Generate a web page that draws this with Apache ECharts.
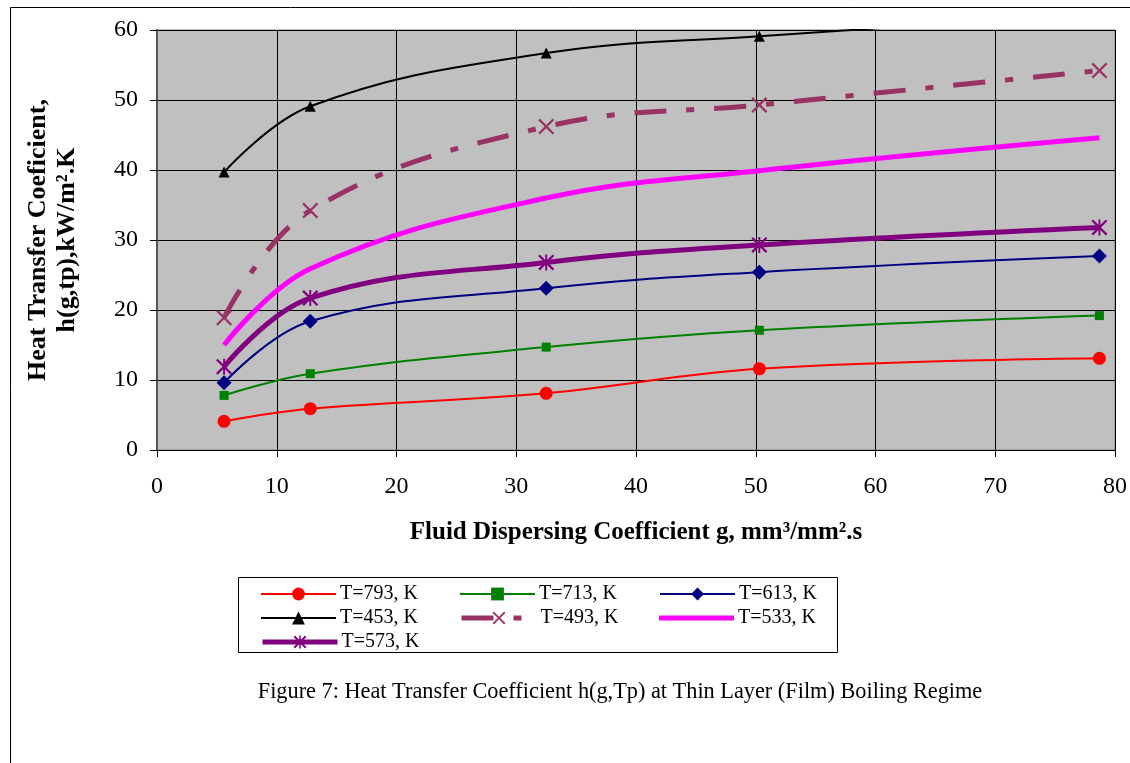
<!DOCTYPE html>
<html>
<head>
<meta charset="utf-8">
<script src="https://cdn.jsdelivr.net/npm/echarts@6/dist/echarts.min.js"></script>
<style>
  html, body { margin: 0; padding: 0; background: #fff; }
  #main { width: 1130px; height: 763px; }
</style>
</head>
<body>
<div id="main"></div>
<script>
// fluid dispersing coefficient g, mm3/mm2.s
var gValues = [5.6, 12.8, 32.5, 50.3, 78.7];
// heat transfer coefficient, kW/m2.K
var t793 = [4.1, 5.9, 8.1, 11.6, 13.1];
var t713 = [7.8, 10.9, 14.7, 17.1, 19.2];
var t613 = [9.6, 18.4, 23.1, 25.4, 27.7];
var t453 = [39.7, 49.1, 56.7, 59.1, 62.3];
var t493 = [18.9, 34.2, 46.2, 49.3, 54.2];
var t533 = [15.0, 25.9, 36.0, 39.9, 44.6];
var t573 = [11.9, 21.7, 26.8, 29.3, 31.8];
var xTicks = [0, 10, 20, 30, 40, 50, 60, 70, 80];
var yTicks = [0, 10, 20, 30, 40, 50, 60];

var serif = '"Liberation Serif", "Times New Roman", serif';
var crossPath = 'path://M0,1L1,0L5,4L9,0L10,1L6,5L10,9L9,10L5,6L1,10L0,9L4,5Z';
var starPath = 'path://M4.4,0L5.6,0L5.6,10L4.4,10Z M0,1L1,0L10,9L9,10Z M9,0L10,1L1,10L0,9Z';

function pairs(vals) {
	var out = [];
	for (var i = 0; i < gValues.length; i++) {
		out.push([gValues[i], vals[i]]);
	}
	return out;
}

function mkSeries(name, vals, color, width, symbol, size, dash) {
	return {
		name: name,
		type: 'line',
		smooth: 0.4,
		data: pairs(vals),
		symbol: symbol,
		symbolSize: size,
		showSymbol: symbol !== 'none',
		lineStyle: { color: color, width: width, type: dash || 'solid' },
		itemStyle: { color: color },
		emphasis: { disabled: true },
		z: 3
	};
}

var seriesList = [
	mkSeries('T=793, K', t793, '#FF0000', 2, 'circle', 13),
	mkSeries('T=713, K', t713, '#008000', 2, 'rect', 9),
	mkSeries('T=613, K', t613, '#000080', 2, 'diamond', 15),
	mkSeries('T=453, K', t453, '#000000', 2, 'triangle', 11),
	mkSeries('T=493, K', t493, '#993366', 5, crossPath, 16, [32, 20, 8, 20]),
	mkSeries('T=533, K', t533, '#FF00FF', 5, 'none', 0),
	mkSeries('T=573, K', t573, '#800080', 5, starPath, 16)
];

// legend placement: one small legend per entry (row centres 592 / 616 / 640)
var legendPos = [
	[260, 592], [459, 592], [659, 592],
	[260, 616], [459, 616], [659, 616],
	[260, 640]
];
var legendWidth = [2, 2, 2, 2, 5, 5, 5];
var legends = [];
for (var i = 0; i < seriesList.length; i++) {
	var item = { name: seriesList[i].name, lineStyle: { width: legendWidth[i] } };
	var h = 16;
	if (seriesList[i].symbol === 'none') {
		item.icon = 'rect';
		h = 5;
	}
	legends.push({
		data: [item],
		left: legendPos[i][0],
		top: legendPos[i][1] - 10,
		itemWidth: 75,
		itemHeight: h,
		itemGap: 0,
		padding: 0,
		selectedMode: false,
		textStyle: { fontFamily: serif, fontSize: 20, color: '#000', lineHeight: 24, padding: [0, 0, 0, -1] }
	});
}

var myChart = echarts.init(document.getElementById('main'));
var option = {
	backgroundColor: '#fff',
	animation: false,
	grid: {
		left: 157, right: 14, top: 30, bottom: 313,
		show: true,
		backgroundColor: '#C0C0C0',
		borderColor: '#808080',
		borderWidth: 1
	},
	legend: legends,
	xAxis: {
		type: 'value',
		min: xTicks[0],
		max: xTicks[xTicks.length - 1],
		interval: 10,
		name: 'Fluid Dispersing Coefficient g, mm³/mm².s',
		nameLocation: 'middle',
		nameGap: 70,
		nameTextStyle: { fontFamily: serif, fontSize: 25, fontWeight: 'bold', color: '#000' },
		axisLine: { show: true, onZero: false, lineStyle: { color: '#000', width: 1 } },
		axisTick: { show: true, length: 7, lineStyle: { color: '#000' } },
		axisLabel: { fontFamily: serif, fontSize: 24, color: '#000', margin: 25 },
		splitLine: { show: true, lineStyle: { color: '#000', width: 1 } }
	},
	yAxis: {
		type: 'value',
		min: yTicks[0],
		max: yTicks[yTicks.length - 1],
		interval: 10,
		name: 'Heat Transfer Coeficient,\nh(g,tp),kW/m².K',
		nameLocation: 'middle',
		nameGap: 75,
		nameTextStyle: { fontFamily: serif, fontSize: 26, fontWeight: 'bold', color: '#000', lineHeight: 29 },
		axisLine: { show: true, lineStyle: { color: '#555', width: 2 } },
		axisTick: { show: true, length: 7, lineStyle: { color: '#000' } },
		axisLabel: { fontFamily: serif, fontSize: 24, color: '#000', margin: 19 },
		splitLine: { show: true, lineStyle: { color: '#000', width: 1 } }
	},
	graphic: [
		{
			type: 'rect',
			shape: { x: 10.5, y: 7.5, width: 1130, height: 770 },
			style: { fill: 'none', stroke: '#000', lineWidth: 1 },
			silent: true
		},
		{
			type: 'rect',
			shape: { x: 238.5, y: 577.5, width: 599, height: 75 },
			style: { fill: 'none', stroke: '#000', lineWidth: 1 },
			silent: true
		},
		{
			type: 'text',
			x: 620,
			y: 692,
			style: {
				text: 'Figure 7: Heat Transfer Coefficient h(g,Tp) at Thin Layer (Film) Boiling Regime',
				font: '22.3px ' + serif,
				fill: '#000',
				textAlign: 'center',
				textVerticalAlign: 'middle'
			}
		}
	],
	series: seriesList
};
myChart.setOption(option);
</script>
</body>
</html>
